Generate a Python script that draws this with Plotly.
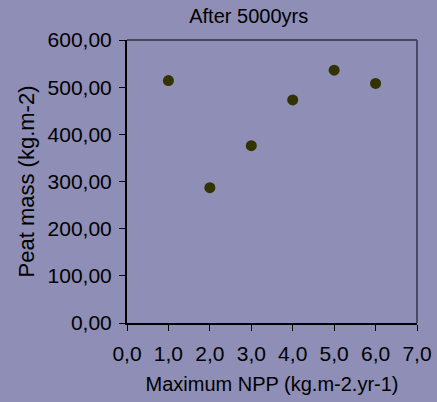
import plotly.graph_objects as go

npp = [1, 2, 3, 4, 5, 6]
peat_mass = [514, 287, 376, 473, 536, 508]
x_ticks = [0, 1, 2, 3, 4, 5, 6, 7]
y_ticks = [0, 100, 200, 300, 400, 500, 600]

bg = "#8E8EB6"
font = "Liberation Sans, Arial, sans-serif"

fig = go.Figure()
fig.add_trace(go.Scatter(
    x=npp, y=peat_mass, mode="markers",
    marker=dict(color="#333300", size=11, line=dict(width=0)),
    showlegend=False, cliponaxis=False,
))

fig.update_layout(
    width=437, height=402,
    margin=dict(l=127, r=20, t=40, b=79),
    paper_bgcolor=bg, plot_bgcolor=bg,
    separators=",.",
    font=dict(family=font, size=21, color="#000000"),
    title=dict(text="After 5000yrs", x=(248.7 - 127) / 290, xref="paper",
               xanchor="center", y=1 - 16 / 402, yanchor="middle",
               font=dict(family=font, size=20, color="#000000")),
    xaxis=dict(
        range=[0, 7], tickvals=x_ticks, tickformat=".1f",
        showgrid=False, zeroline=False, automargin=False,
        showline=True, linecolor="#000000", linewidth=2,
        ticks="outside", ticklen=6, tickwidth=1, tickcolor="#000000",
        tickfont=dict(size=21), ticklabelstandoff=5,
        title=dict(text="Maximum NPP (kg.m-2.yr-1)", font=dict(size=20), standoff=13),
    ),
    yaxis=dict(
        range=[0, 600], tickvals=y_ticks, tickformat=".2f",
        showgrid=False, zeroline=False, automargin=False,
        showline=True, linecolor="#000000", linewidth=2,
        ticks="outside", ticklen=6, tickwidth=1, tickcolor="#000000",
        tickfont=dict(size=21), ticklabelstandoff=3,
        title=dict(text="Peat mass (kg.m-2)", font=dict(size=22), standoff=7),
    ),
    shapes=[
        dict(type="line", xref="paper", yref="paper", x0=0, x1=1, y0=1, y1=1,
             line=dict(color="#000000", width=1)),
        dict(type="line", xref="paper", yref="paper", x0=1, x1=1, y0=0, y1=1,
             line=dict(color="#4A4A66", width=2)),
    ],
)

fig.write_html("out.html")
